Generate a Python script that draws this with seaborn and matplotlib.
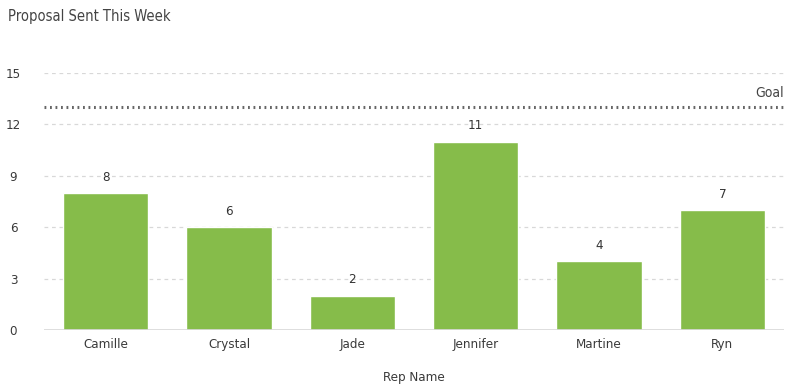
import matplotlib
matplotlib.use("Agg")
import matplotlib.pyplot as plt
import seaborn as sns
import pandas as pd

reps = ["Camille", "Crystal", "Jade", "Jennifer", "Martine", "Ryn"]
proposals = [8, 6, 2, 11, 4, 7]
goal = 13
y_ticks = [0, 3, 6, 9, 12, 15]

sns.set_theme(style="white")
plt.rcParams["font.family"] = ["DejaVu Sans", "Lato"]
plt.rcParams["font.stretch"] = "condensed"

df = pd.DataFrame({"rep": reps, "proposals": proposals})

fig = plt.figure(figsize=(7.88, 3.91), dpi=100)
ax = fig.add_axes([44 / 788, 1 - 330 / 391, 740 / 788, 257 / 391])

sns.barplot(data=df, x="rep", y="proposals", color="#86bc4a", saturation=1,
            width=0.69, ax=ax, zorder=3)

ax.set_ylim(0, 15)
ax.set_xlim(-0.5, len(reps) - 0.5)
ax.set_yticks(y_ticks)
for t in y_ticks[1:]:
    ax.axhline(t, color="#d8d8d8", lw=0.9, ls=(0, (3, 3)), zorder=1)
ax.axhline(0, color="#d8d8d8", lw=1.2, zorder=4)

# target line
ax.axhline(goal, color="#666666", lw=2.2, ls=(0, (0.6, 1.2)), zorder=2)
ax.text(len(reps) - 0.5, goal + 0.45, "Goal", ha="right", va="bottom",
        fontsize=10, color="#444444")

for i, v in enumerate(proposals):
    ax.text(i, v + 0.55, str(v), ha="center", va="bottom", fontsize=9.5,
            color="#333333")

for s in ax.spines.values():
    s.set_visible(False)
ax.tick_params(axis="both", length=0, labelsize=9.5, colors="#3a3a3a")
ax.tick_params(axis="y", pad=22)
ax.tick_params(axis="x", pad=6)
for lbl in ax.get_yticklabels():
    lbl.set_horizontalalignment("center")
ax.set_ylabel("")
ax.set_xlabel("Rep Name", fontsize=9.5, color="#3a3a3a", labelpad=14)

fig.text(8 / 788, 1 - 16 / 391, "Proposal Sent This Week", fontsize=10.5,
         color="#444444", va="center", ha="left")

fig.savefig("out.png", dpi=100, facecolor="white")
